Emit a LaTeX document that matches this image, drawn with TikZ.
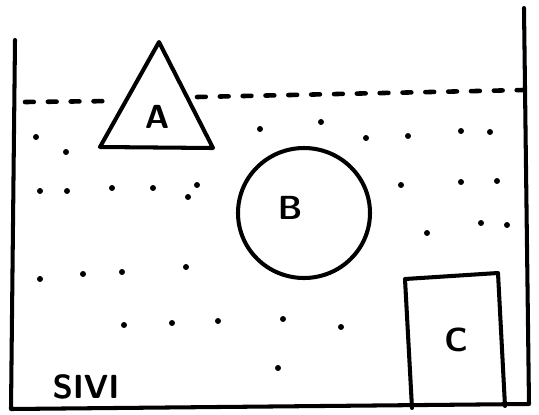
\documentclass[tikz,border=0pt]{standalone}
\usepackage{tikz}

\begin{document}
\begin{tikzpicture}[x=0.02cm,y=-0.02cm,line width=2.3pt,line cap=round,line join=round,
    lbl/.style={font=\sffamily\bfseries\fontsize{19}{20}\selectfont,inner sep=0pt},
    surface/.style={dash pattern=on 5pt off 8pt,line width=2.6pt}]
  \useasboundingbox (0,0) rectangle (539,414);

  % container
  \draw (15,40) -- (11,409) -- (529,404) -- (524,8);

  % liquid surface
  \draw[surface] (25,102) -- (115,101);
  \draw[surface] (197,97) -- (523,90);

  % floating, submerged and sunk bodies
  \draw (159,42) -- (100,147) -- (213,148) -- cycle;
  \node[lbl] (a) at (157,117) {A};
  \draw (304,213) ellipse (66 and 65);
  \node[lbl] (b) at (290,208) {B};
  \draw (412,408) -- (405,279) -- (498,273) -- (505,406);
  \node[lbl] (c) at (456,340) {C};

  % drops in the liquid
  \foreach \x/\y in {36/137,66/152,260/129,321/122,366/138,408/136,461/131,490/132,
      40/191,67/191,112/188,153/188,197/185,188/197,401/185,461/182,497/181,
      427/233,481/223,507/225,40/279,83/274,122/272,186/267,
      124/325,172/323,218/321,283/319,341/327,278/368}
    \fill (\x,\y) circle (1.7pt);

  \node[lbl] (sivi) at (86,387) {SIVI};
\end{tikzpicture}
\end{document}
